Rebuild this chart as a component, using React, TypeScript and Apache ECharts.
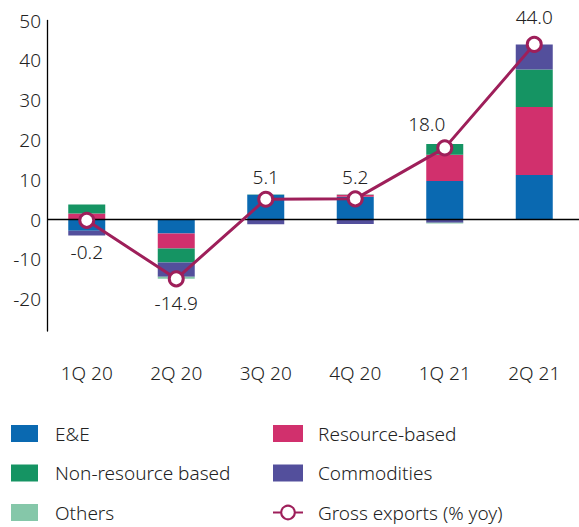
import React, { useEffect, useRef } from "react";
import * as echarts from "echarts";

const categories = ["1Q 20", "2Q 20", "3Q 20", "4Q 20", "1Q 21", "2Q 21"];
const eAndE = [-2.8, -3.5, 6.2, 5.7, 9.7, 11.2];
const resourceBased = [1.5, -3.8, 0, 0.5, 6.6, 17.1];
const nonResourceBased = [2.3, -3.5, 0.1, 0.1, 2.7, 9.4];
const commodities = [-1.2, -3.6, -1.2, -1.1, -0.8, 6.3];
const others = [0, -0.5, 0, 0, -0.2, 0];
const grossExports = [-0.2, -14.9, 5.1, 5.2, 18.0, 44.0];
const yTickLabels = [-20, -10, 0, 10, 20, 30, 40, 50];

const FONT = "Noto Sans";
const TEXT = "#222222";
const LINE_COLOR = "#9e1f5a";

const labelCfg = [
  { position: "bottom", distance: 14 },
  { position: "bottom", distance: 6 },
  { position: "top", distance: 4 },
  { position: "top", distance: 4 },
  { position: "top", distance: 6, offset: [-18, 0] },
  { position: "top", distance: 9 },
];

export default function App() {
  const ref = useRef<HTMLDivElement>(null);
  useEffect(() => {
    if (!ref.current) return;
    const chart = echarts.init(ref.current, undefined, { renderer: "svg" });
    const barSeries = (name: string, data: number[], color: string, extra: any = {}) => ({
      name,
      type: "bar",
      stack: "total",
      data,
      barWidth: 37,
      itemStyle: { color },
      ...extra,
    });
    const legendText = (pad: number) => ({
      fontSize: 19,
      lineHeight: 19,
      color: TEXT,
      fontFamily: FONT,
      fontWeight: 300,
      padding: [0, 0, 0, pad],
    });
    chart.setOption({
      animation: false,
      textStyle: { fontFamily: FONT },
      grid: { left: 42, right: -13, top: 20.5, bottom: 196 },
      xAxis: {
        type: "category",
        data: categories,
        position: "bottom",
        axisLine: { show: false, onZero: false },
        axisTick: { show: false },
        axisLabel: { fontSize: 19, color: TEXT, margin: 32, fontFamily: FONT, fontWeight: 300 },
      },
      yAxis: {
        type: "value",
        min: -28,
        max: 50,
        offset: -5,
        axisLine: { show: true, lineStyle: { color: "#000", width: 1.3 } },
        axisTick: { show: false },
        splitLine: { show: false },
        axisLabel: {
          fontSize: 19,
          color: TEXT,
          margin: 6,
          fontFamily: FONT,
          fontWeight: 300,
          customValues: yTickLabels,
        },
      },
      legend: [
        {
          orient: "vertical",
          left: 11,
          top: 424,
          padding: 0,
          itemWidth: 27,
          itemHeight: 17,
          itemGap: 20.5,
          data: [
            { name: "E&E", icon: "rect" },
            { name: "Non-resource based", icon: "rect" },
            { name: "Others", icon: "rect" },
          ],
          textStyle: legendText(12),
        },
        {
          orient: "vertical",
          left: 272,
          top: 424,
          padding: 0,
          itemWidth: 30,
          itemHeight: 17,
          itemGap: 20.5,
          data: [
            { name: "Resource-based", icon: "rect" },
            { name: "Commodities", icon: "rect" },
            { name: "Gross exports (% yoy)" },
          ],
          textStyle: legendText(10),
        },
      ],
      series: [
        barSeries("E&E", eAndE, "#0a69b1", {
          markLine: {
            silent: true,
            symbol: ["none", "none"],
            label: { show: false },
            lineStyle: { color: "#000", width: 1.3, type: "solid" },
            data: [[{ yAxis: 0, x: 47 }, { yAxis: 0, x: 579 }]],
          },
        }),
        barSeries("Resource-based", resourceBased, "#d1306d"),
        barSeries("Non-resource based", nonResourceBased, "#159463"),
        barSeries("Commodities", commodities, "#534f9c"),
        barSeries("Others", others, "#85c7a9"),
        {
          name: "Gross exports (% yoy)",
          type: "line",
          data: grossExports.map((v, i) => ({ value: v, label: labelCfg[i] })),
          z: 5,
          symbol: "circle",
          symbolSize: 14,
          lineStyle: { color: LINE_COLOR, width: 3 },
          itemStyle: { color: "#ffffff", borderColor: LINE_COLOR, borderWidth: 3 },
          label: {
            show: true,
            fontSize: 19,
            color: TEXT,
            fontFamily: FONT,
            fontWeight: 300,
            formatter: (p: any) => Number(p.value).toFixed(1),
          },
        },
      ],
    });
    return () => chart.dispose();
  }, []);
  return <div ref={ref} style={{ width: 579, height: 527, position: "absolute", left: 0, top: 0 }} />;
}
